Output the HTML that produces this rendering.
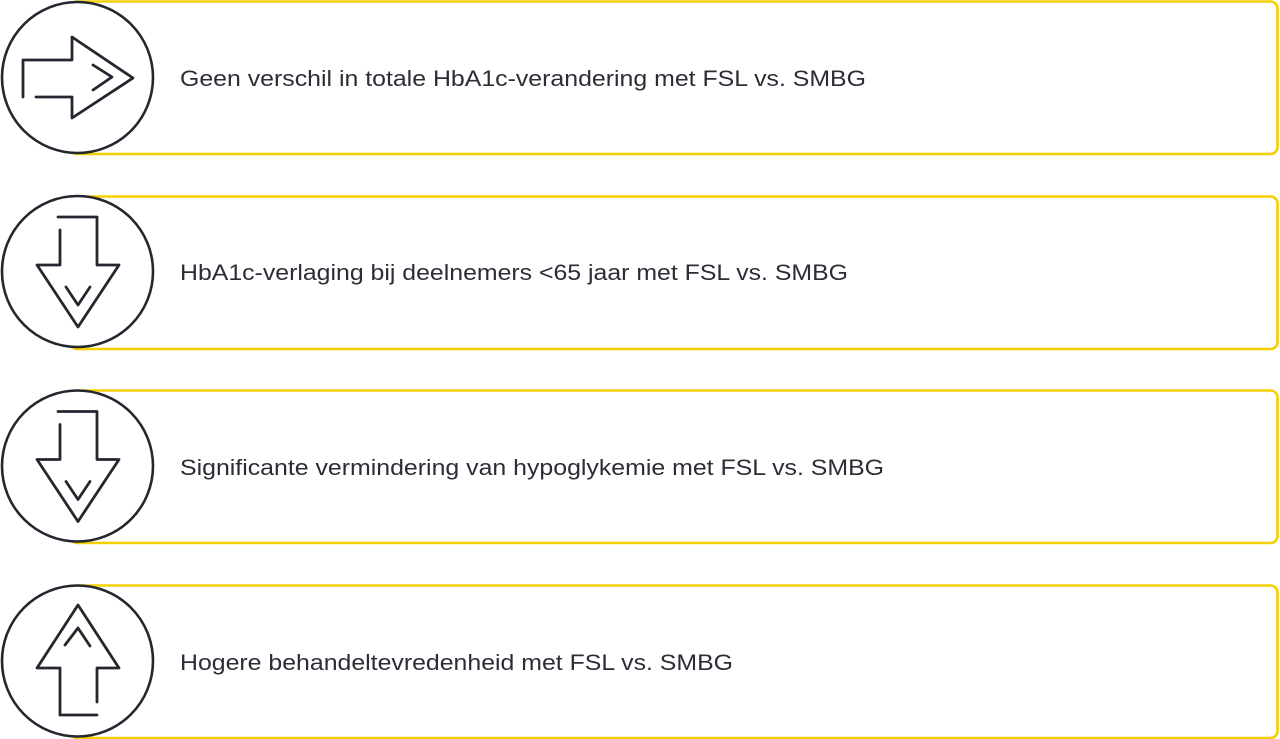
<!DOCTYPE html>
<html><head><meta charset="utf-8"><style>
html,body{margin:0;padding:0;background:#fff;width:1280px;height:739px;overflow:hidden}
text{font-family:"Liberation Sans",Arial,sans-serif;font-size:22px;fill:#2b2e36}
</style></head><body>
<svg width="1280" height="739" viewBox="0 0 1280 739" xmlns="http://www.w3.org/2000/svg">
<g fill="#fff" stroke="#f5cf00" stroke-width="2.6">
<rect x="70" y="1.5" width="1207.5" height="152.5" rx="7"/>
<rect x="70" y="196.5" width="1207.5" height="152.5" rx="7"/>
<rect x="70" y="390.5" width="1207.5" height="152.5" rx="7"/>
<rect x="70" y="585.5" width="1207.5" height="152.5" rx="7"/>
</g>
<g fill="#fff" stroke="#23272f" stroke-width="2.6">
<circle cx="77.5" cy="77.5" r="75.5"/>
<circle cx="77.5" cy="271.5" r="75.5"/>
<circle cx="77.5" cy="466" r="75.5"/>
<circle cx="77.5" cy="661" r="75.5"/>
</g>
<g fill="none" stroke="#23272f" stroke-width="2.8" stroke-linecap="round" stroke-linejoin="round">
<polyline points="23,97 23,60 72,60 72,37 133,78 72,118 72,97 36,97"/>
<polyline points="93,65 112,77 93,90"/>
<polyline points="58,217 97,217 97,265 119,265 78,327 37,265 60,265 60,230"/>
<polyline points="66,287 78,305 90,287"/>
<polyline points="58,411.5 97,411.5 97,459.5 119,459.5 78,521.5 37,459.5 60,459.5 60,424.5"/>
<polyline points="66,481.5 78,499.5 90,481.5"/>
<polyline points="97,702 97,668 119,668 78,605 37,668 60,668 60,715 97,715"/>
<polyline points="65,645 78,628 90,646"/>
</g>
<text x="180" y="86" textLength="686" lengthAdjust="spacingAndGlyphs">Geen verschil in totale HbA1c-verandering met FSL vs. SMBG</text>
<text x="180" y="280" textLength="668" lengthAdjust="spacingAndGlyphs">HbA1c-verlaging bij deelnemers &lt;65 jaar met FSL vs. SMBG</text>
<text x="180" y="475" textLength="704" lengthAdjust="spacingAndGlyphs">Significante vermindering van hypoglykemie met FSL vs. SMBG</text>
<text x="180" y="670" textLength="553" lengthAdjust="spacingAndGlyphs">Hogere behandeltevredenheid met FSL vs. SMBG</text>
</svg>
</body></html>
